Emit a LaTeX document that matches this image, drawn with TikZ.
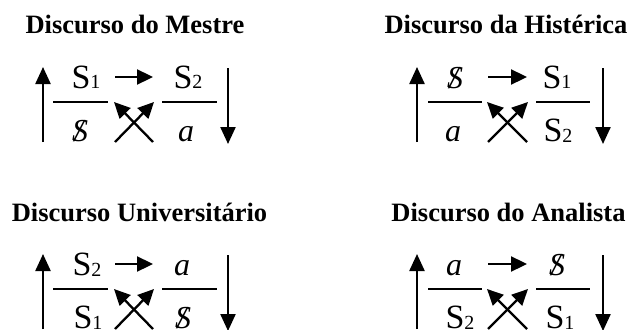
\documentclass[tikz,border=0pt]{standalone}
\usepackage{fontspec}
\setmainfont{Liberation Serif}
\usepackage{tikz}
\usetikzlibrary{arrows.meta}
\newcommand{\barS}{\ooalign{\textit{S}\cr\hidewidth\textit{/}\hidewidth\cr}}
\newcommand{\Ssub}[1]{{\fontsize{34}{36}\selectfont S}\raisebox{-1pt}{\fontsize{20}{20}\selectfont #1}}
\tikzset{
  heading/.style={
    anchor=base,
    inner sep=0pt,
    font=\fontsize{26.5}{30}\selectfont\bfseries
  },
  symbol/.style={
    anchor=base,
    inner sep=0pt,
    font=\fontsize{32}{34}\selectfont
  },
  fracbar/.style={line width=1.3pt},
  vflow/.style={-{Triangle[length=17pt,width=15pt]}, line width=2.3pt},
  hflow/.style={-{Triangle[length=16pt,width=15pt]}, line width=2.3pt}
}

\begin{document}
\begin{tikzpicture}[x=1pt,y=-1pt]

\useasboundingbox (0,0) rectangle (631,329);
\clip (0,0) rectangle (631,329);

% Mestre
\begin{scope}
\node[heading] (m-title) at (135,34) {Discurso do Mestre};
\node[symbol] (m-tl) at (86,88) {\Ssub{1}};
\node[symbol] (m-tr) at (188,88) {\Ssub{2}};
\node[symbol] (m-bl) at (80,141) {\barS};
\node[symbol] (m-br) at (186,141) {\textit{a}};
\coordinate (m-lb) at (43,142);  \coordinate (m-lt) at (43,67);
\coordinate (m-rt) at (228,68);  \coordinate (m-rb) at (228,144);
\coordinate (m-hw) at (115,77);  \coordinate (m-he) at (153,77);
\coordinate (m-sw) at (115,142); \coordinate (m-ne) at (154,102);
\coordinate (m-se) at (153,142); \coordinate (m-nw) at (114,102);
\draw[fracbar] (53,102) -- (108,102);
\draw[fracbar] (162,102) -- (217,102);
\draw[vflow] (m-lb) -- (m-lt);
\draw[vflow] (m-rt) -- (m-rb);
\draw[hflow] (m-hw) -- (m-he);
\draw[hflow] (m-sw) -- (m-ne);
\draw[hflow] (m-se) -- (m-nw);
\end{scope}

% Histerica
\begin{scope}[shift={(374,0)}]
\node[heading] (h-title) at (132,34) {Discurso da Histérica};
\node[symbol] (h-tl) at (81,88) {\barS};
\node[symbol] (h-tr) at (183,88) {\Ssub{1}};
\node[symbol] (h-bl) at (79,141) {\textit{a}};
\node[symbol] (h-br) at (184,141) {\Ssub{2}};
\coordinate (h-lb) at (43,142);  \coordinate (h-lt) at (43,67);
\coordinate (h-rt) at (229,68);  \coordinate (h-rb) at (229,144);
\coordinate (h-hw) at (114,77);  \coordinate (h-he) at (153,77);
\coordinate (h-sw) at (114,142); \coordinate (h-ne) at (154,102);
\coordinate (h-se) at (153,142); \coordinate (h-nw) at (113,102);
\draw[fracbar] (54,102) -- (108,102);
\draw[fracbar] (162,102) -- (216,102);
\draw[vflow] (h-lb) -- (h-lt);
\draw[vflow] (h-rt) -- (h-rb);
\draw[hflow] (h-hw) -- (h-he);
\draw[hflow] (h-sw) -- (h-ne);
\draw[hflow] (h-se) -- (h-nw);
\end{scope}

% Universitario
\begin{scope}[shift={(0,187)}]
\node[heading] (u-title) at (139.5,34) {Discurso Universitário};
\node[symbol] (u-tl) at (87,88) {\Ssub{2}};
\node[symbol] (u-tr) at (182,88) {\textit{a}};
\node[symbol] (u-bl) at (88,141) {\Ssub{1}};
\node[symbol] (u-br) at (183,141) {\barS};
\coordinate (u-lb) at (43,142);  \coordinate (u-lt) at (43,67);
\coordinate (u-rt) at (228,68);  \coordinate (u-rb) at (228,144);
\coordinate (u-hw) at (115,77);  \coordinate (u-he) at (153,77);
\coordinate (u-sw) at (115,142); \coordinate (u-ne) at (154,102);
\coordinate (u-se) at (153,142); \coordinate (u-nw) at (114,102);
\draw[fracbar] (53,102) -- (108,102);
\draw[fracbar] (162,102) -- (217,102);
\draw[vflow] (u-lb) -- (u-lt);
\draw[vflow] (u-rt) -- (u-rb);
\draw[hflow] (u-hw) -- (u-he);
\draw[hflow] (u-sw) -- (u-ne);
\draw[hflow] (u-se) -- (u-nw);
\end{scope}

% Analista
\begin{scope}[shift={(374,187)}]
\node[heading] (a-title) at (134.5,34) {Discurso do Analista};
\node[symbol] (a-tl) at (80,88) {\textit{a}};
\node[symbol] (a-tr) at (183,88) {\barS};
\node[symbol] (a-bl) at (86,141) {\Ssub{2}};
\node[symbol] (a-br) at (186,141) {\Ssub{1}};
\coordinate (a-lb) at (43,142);  \coordinate (a-lt) at (43,67);
\coordinate (a-rt) at (229,68);  \coordinate (a-rb) at (229,144);
\coordinate (a-hw) at (114,77);  \coordinate (a-he) at (153,77);
\coordinate (a-sw) at (114,142); \coordinate (a-ne) at (154,102);
\coordinate (a-se) at (153,142); \coordinate (a-nw) at (113,102);
\draw[fracbar] (54,102) -- (108,102);
\draw[fracbar] (162,102) -- (216,102);
\draw[vflow] (a-lb) -- (a-lt);
\draw[vflow] (a-rt) -- (a-rb);
\draw[hflow] (a-hw) -- (a-he);
\draw[hflow] (a-sw) -- (a-ne);
\draw[hflow] (a-se) -- (a-nw);
\end{scope}

\end{tikzpicture}
\end{document}
